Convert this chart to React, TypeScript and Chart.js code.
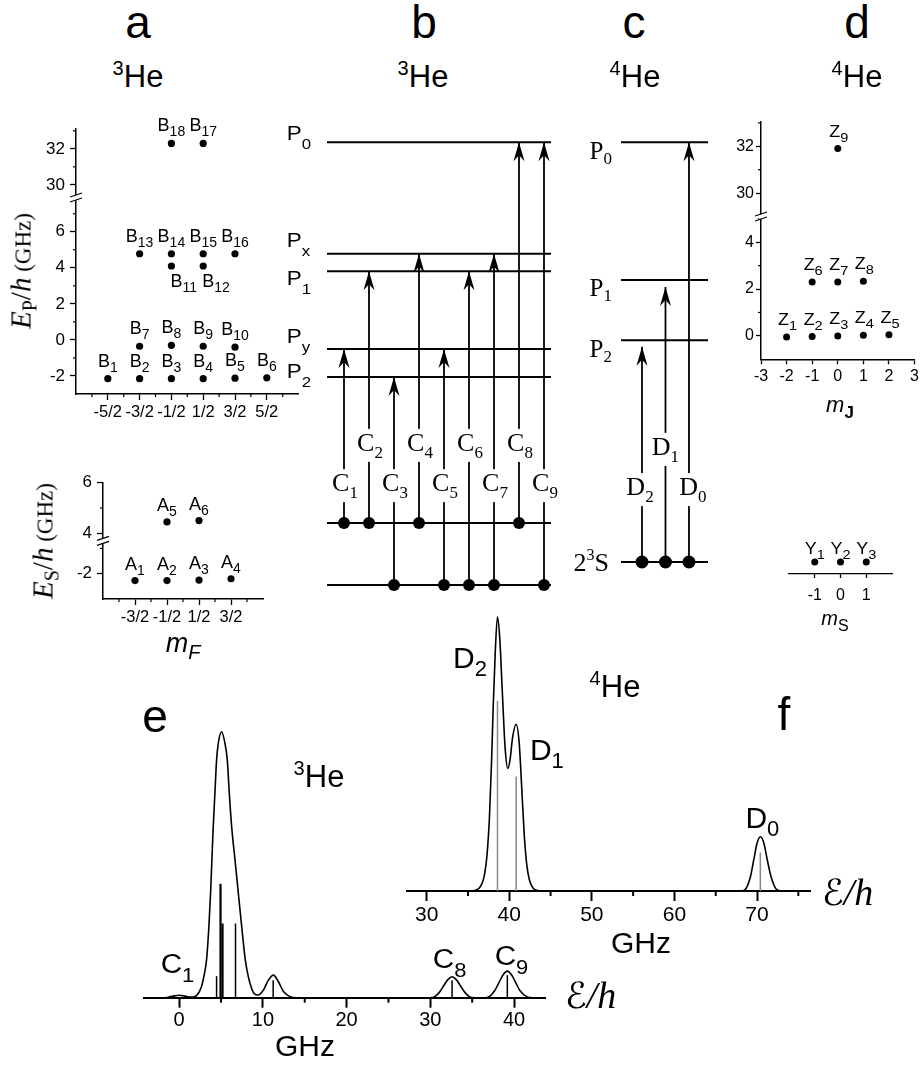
import React, { useEffect, useRef } from "react";
import { Chart, registerables } from "chart.js";

Chart.register(...registerables);

const SANS = "'Liberation Sans', Arial, Helvetica, sans-serif";
const SERIF = "'Liberation Serif', 'Times New Roman', Times, serif";
const SCRIPT = "'DejaVu Serif', 'DejaVu Sans', serif";
Chart.defaults.font.family = SANS;
Chart.defaults.color = "#000";

/* ======================= DATA ======================= */
// (a) 3He 2^3P sublevels B1..B18 : m_F and E_P/h (GHz)
const bMF = [-2.5, -1.5, -0.5, 0.5, 1.5, 2.5, -1.5, -0.5, 0.5, 1.5, -0.5, 0.5, -1.5, -0.5, 0.5, 1.5, 0.5, -0.5];
const bE = [-2.15, -2.15, -2.15, -2.15, -2.12, -2.1, -0.35, -0.3, -0.35, -0.4, 4.1, 4.1, 4.78, 4.78, 4.78, 4.78, 32.3, 32.3];
// (a) 3He 2^3S sublevels A1..A6 : m_F and E_S/h (GHz)
const aMF = [-1.5, -0.5, 0.5, 1.5, -0.5, 0.5];
const aE = [-2.27, -2.27, -2.25, -2.2, 4.45, 4.5];
const mFTicksB = [-2.5, -1.5, -0.5, 0.5, 1.5, 2.5];
const mFLabelsB = ["-5/2", "-3/2", "-1/2", "1/2", "3/2", "5/2"];
const mFTicksA = [-1.5, -0.5, 0.5, 1.5];
const mFLabelsA = ["-3/2", "-1/2", "1/2", "3/2"];
const ePTicksLow = [-2, 0, 2, 4, 6];
const ePTicksHigh = [30, 32];
const eSTicksLow = [-2];
const eSTicksHigh = [4, 6];

// (d) 4He 2^3P sublevels Z1..Z9 and 2^3S sublevels Y1..Y3
const zMJ = [-2, -1, 0, 1, 2, -1, 0, 1, 0];
const zE = [-0.05, -0.03, 0, 0.03, 0.05, 2.3, 2.3, 2.33, 31.9];
const yMS = [-1, 0, 1];
const yE = [0, 0, 0];
const mJTicks = [-3, -2, -1, 0, 1, 2, 3];
const eZTicksLow = [0, 2, 4];
const eZTicksHigh = [30, 32];
const mSTicks = [-1, 0, 1];

// (b) 3He level scheme (schematic energies), transitions C1..C9
const bLevelNames = ["0", "x", "1", "y", "2"];
const bLevelE = [10, 7.48, 7.09, 5.33, 4.7];
const bGroundE = [1.4, 0];
const cSlot = [1, 2, 3, 4, 5, 6, 7, 8, 9];
const cFrom = [0, 0, 1, 0, 1, 1, 1, 0, 1];
const cTo = [3, 2, 4, 1, 3, 2, 1, 0, 0];

// (c) 4He level scheme, transitions D2, D1, D0
const dLevelNames = ["0", "1", "2"];
const dLevelE = [10, 6.89, 5.53];
const dGroundE = 0.52;
const dNames = ["2", "1", "0"];
const dSlot = [1, 2, 3];
const dTip = [5.38, 6.73, 10];

// (e) 3He spectrum (GHz, arb. units)
const eX = [-4.2, -2.0, -1.3, -0.7, 0, 0.7, 1.3, 1.8, 2.28, 2.65, 2.95, 3.27, 3.55, 3.75, 3.91, 4.07, 4.27, 4.47, 4.67, 5.07, 5.47, 5.75, 5.99, 6.27, 6.67, 7.07, 7.47, 7.9, 8.26, 8.6, 8.94, 9.46, 10.06, 10.66, 11.26, 11.86, 12.46, 13.25, 14.0, 29.5, 30.3, 31.1, 31.6, 32.1, 32.6, 33.1, 33.6, 34.1, 34.9, 36.2, 36.9, 37.7, 38.2, 38.7, 39.2, 39.7, 40.2, 40.7, 41.5, 42.3, 43.7];
const eY = [0, 0, 0.2, 0.6, 0.9, 0.6, 0.2, 0.3, 1.6, 4.0, 7.9, 14.2, 26.7, 39.2, 51.8, 64.3, 76.8, 89.3, 95.6, 100, 95.6, 89.3, 76.8, 64.3, 51.8, 39.2, 26.7, 14.2, 7.9, 4.0, 1.6, 1.0, 2.9, 6.6, 8.5, 6.0, 2.3, 0.4, 0, 0, 0.1, 2.1, 4.5, 6.8, 7.9, 6.8, 4.5, 2.1, 0.1, 0, 0.2, 2.7, 5.7, 8.6, 10.0, 8.6, 5.7, 2.7, 0.4, 0, 0];
const eStickX = [4.47, 4.94, 5.18, 6.73, 11.23, 32.6, 39.2];
const eStickH = [8.1, 42.8, 27.9, 27.9, 6.6, 6.6, 8.5];
const eTicks = [0, 10, 20, 30, 40];
const eMinor = [5, 15, 25, 35];

// (f) 4He spectrum
const fX = [27.65, 34.5, 35.5, 36.0, 36.4, 36.7, 37.0, 37.3, 37.6, 37.85, 38.05, 38.3, 38.57, 38.85, 39.15, 39.5, 39.82, 40.1, 40.4, 40.83, 41.2, 41.5, 41.8, 42.1, 42.44, 42.9, 43.4, 44.5, 67.5, 68.2, 68.6, 69.2, 69.6, 70.0, 70.4, 70.8, 71.2, 71.7, 72.4, 73.2, 76.5];
const fY = [0, 0, 0.1, 0.4, 1.2, 2.8, 6, 13, 27, 47, 67, 87, 100, 92, 73, 52, 44.7, 48, 56, 60.8, 54, 38, 21, 10, 4, 1, 0.2, 0, 0, 0.1, 0.6, 5.2, 11.3, 17.4, 19.8, 17.8, 12, 5.2, 0.5, 0, 0];
const fStickX = [38.57, 40.83, 70.4];
const fStickH = [69.3, 41.7, 14.0];
const fTicks = [30, 40, 50, 60, 70];
const fMinor = [35, 45, 55, 65, 75];

/* ======================= HELPERS ======================= */
const fnt = (size: number, fam = SANS, style = "") => `${style ? style + " " : ""}${size}px ${fam}`;
type Seg = [string, string, number?];

function rich(ctx: CanvasRenderingContext2D, segs: Seg[], x: number, y: number, align: "left" | "center" | "right" = "center", sx = 1, bg?: [number, number]) {
  const widths = segs.map(([t, f]) => { ctx.font = f; return ctx.measureText(t).width * sx; });
  const total = widths.reduce((a, b) => a + b, 0);
  let cx = align === "left" ? x : align === "center" ? x - total / 2 : x - total;
  if (bg) { ctx.fillStyle = "#fff"; ctx.fillRect(cx - 2, y - bg[0], total + 4, bg[0] + bg[1]); }
  ctx.fillStyle = "#000"; ctx.textAlign = "left"; ctx.textBaseline = "alphabetic";
  segs.forEach(([t, f, dy], i) => {
    ctx.save(); ctx.font = f; ctx.translate(cx, y + (dy || 0)); ctx.scale(sx, 1); ctx.fillText(t, 0, 0); ctx.restore();
    cx += widths[i];
  });
}
function minorX(ctx: CanvasRenderingContext2D, s: any, vals: number[], len: number, w = 1.2) {
  ctx.strokeStyle = "#000"; ctx.lineWidth = w;
  vals.forEach((v) => { const p = s.getPixelForValue(v); ctx.beginPath(); ctx.moveTo(p, s.top); ctx.lineTo(p, s.top + len); ctx.stroke(); });
}
function minorY(ctx: CanvasRenderingContext2D, s: any, vals: number[], len: number, w = 1.2) {
  ctx.strokeStyle = "#000"; ctx.lineWidth = w;
  vals.forEach((v) => { const p = s.getPixelForValue(v); ctx.beginPath(); ctx.moveTo(s.right, p); ctx.lineTo(s.right - len, p); ctx.stroke(); });
}
function breakMark(ctx: CanvasRenderingContext2D, x: number, y: number) {
  ctx.fillStyle = "#fff"; ctx.fillRect(x - 2, y - 2.5, 4, 5);
  ctx.strokeStyle = "#000"; ctx.lineWidth = 1.2;
  [-2.5, 2.5].forEach((d) => { ctx.beginPath(); ctx.moveTo(x - 6, y + d + 2); ctx.lineTo(x + 6, y + d - 2); ctx.stroke(); });
}
function arrowHead(ctx: CanvasRenderingContext2D, px: number, py: number) {
  ctx.fillStyle = "#000";
  ctx.beginPath(); ctx.moveTo(px, py); ctx.lineTo(px - 5.5, py + 19); ctx.lineTo(px, py + 13); ctx.lineTo(px + 5.5, py + 19); ctx.closePath(); ctx.fill();
}

function mkAxis(o: any) {
  return {
    type: "linear", position: o.position, min: o.min, max: o.max,
    stack: o.stack, stackWeight: o.stackWeight, weight: o.weight ?? 0,
    grid: { display: true, drawOnChartArea: false, drawTicks: true, tickLength: o.tickLen ?? 6, tickWidth: o.tickWidth ?? 1.3, tickColor: "#000" },
    border: { display: true, color: "#000", width: o.borderWidth ?? 1.5 },
    ticks: {
      autoSkip: false, maxRotation: 0, minRotation: 0, padding: o.pad ?? 3, color: "#000",
      font: { family: SANS, size: o.fontSize ?? 17 },
      callback: (v: number, i: number) => (o.labels ? o.labels[i] : String(v)),
    },
    afterBuildTicks: (s: any) => { s.ticks = o.major.map((v: number) => ({ value: v })); },
    afterFit: (s: any) => { if (o.width != null) s.width = o.width; if (o.height != null) s.height = o.height; },
  };
}
const baseOpts = (padding: any, scales: any) => ({
  responsive: false, animation: false, events: [],
  layout: { padding },
  plugins: { legend: { display: false }, tooltip: { enabled: false } },
  scales,
});
const dots = (xs: number[], ys: number[], r: number, axisId = "y") => ({
  data: xs.map((x, i) => ({ x, y: ys[i] })), showLine: false, pointRadius: r, pointBackgroundColor: "#000", pointBorderWidth: 0, yAxisID: axisId, clip: false,
});
const segDs = (pts: any[], w: number, color = "#000", extra: any = {}) => ({
  data: pts, showLine: true, borderColor: color, borderWidth: w, pointRadius: 0, clip: false, ...extra,
});

/* ======================= CHART CONFIGS ======================= */
function cfgA1() {
  const lo = bE.map((v, i) => i).filter((i) => bE[i] < 20);
  const hi = bE.map((v, i) => i).filter((i) => bE[i] >= 20);
  return {
    type: "scatter",
    data: { datasets: [dots(lo.map((i) => bMF[i]), lo.map((i) => bE[i]), 3.6, "y"), dots(hi.map((i) => bMF[i]), hi.map((i) => bE[i]), 3.6, "y2")] },
    options: baseOpts({ left: 0, top: 19, right: 21.4, bottom: 0 }, {
      x: mkAxis({ position: "bottom", min: -3.5, max: 3.5, major: mFTicksB, labels: mFLabelsB, height: 46, fontSize: 16.5 }),
      y: mkAxis({ position: "left", min: -3, max: 7.9, stack: "a", stackWeight: 10.9, major: ePTicksLow, width: 76, pad: 5 }),
      y2: mkAxis({ position: "left", min: 29.3, max: 33.1, stack: "a", stackWeight: 3.8, weight: 1, major: ePTicksHigh, width: 76, pad: 5 }),
    }),
    plugins: [{
      id: "a1", afterDraw(chart: any) {
        const ctx = chart.ctx; const { x, y, y2 } = chart.scales; ctx.save();
        minorX(ctx, x, [-3, -2, -1, 0, 1, 2, 3], 3);
        minorY(ctx, y, [-1, 1, 3, 5, 7], 3);
        minorY(ctx, y2, [31, 33], 3);
        breakMark(ctx, chart.chartArea.left, y2.bottom);
        bMF.forEach((m, i) => {
          const px = x.getPixelForValue(m); const s = bE[i] >= 20 ? y2 : y; const py = s.getPixelForValue(bE[i]);
          const below = i === 10 || i === 11;
          rich(ctx, [["B", fnt(18)], [String(i + 1), fnt(14), 5]], below ? px - 1 : px, below ? py + 21 : py - 12, below ? "left" : "center");
        });
        ctx.restore();
      },
    }],
  };
}

function cfgA2() {
  const lo = aE.map((v, i) => i).filter((i) => aE[i] < 1);
  const hi = aE.map((v, i) => i).filter((i) => aE[i] >= 1);
  return {
    type: "scatter",
    data: { datasets: [dots(lo.map((i) => aMF[i]), lo.map((i) => aE[i]), 3.6, "y"), dots(hi.map((i) => aMF[i]), hi.map((i) => aE[i]), 3.6, "y2")] },
    options: baseOpts({ left: 0, top: 22.7, right: 27, bottom: 0 }, {
      x: mkAxis({ position: "bottom", min: -2.5, max: 2.5, major: mFTicksA, labels: mFLabelsA, height: 61, fontSize: 16.5 }),
      y: mkAxis({ position: "left", min: -3, max: -0.7, stack: "a", stackWeight: 2.3, major: eSTicksLow, width: 103, pad: 5 }),
      y2: mkAxis({ position: "left", min: 3.7, max: 6, stack: "a", stackWeight: 2.3, weight: 1, major: eSTicksHigh, width: 103, pad: 5 }),
    }),
    plugins: [{
      id: "a2", afterDraw(chart: any) {
        const ctx = chart.ctx; const { x, y, y2 } = chart.scales; ctx.save();
        minorX(ctx, x, [-2, -1, 0, 1, 2], 3);
        minorY(ctx, y, [-1], 3);
        minorY(ctx, y2, [5], 3);
        breakMark(ctx, chart.chartArea.left, y2.bottom);
        aMF.forEach((m, i) => {
          const px = x.getPixelForValue(m); const s = aE[i] >= 1 ? y2 : y; const py = s.getPixelForValue(aE[i]);
          rich(ctx, [["A", fnt(18)], [String(i + 1), fnt(14), 5]], px, py - 11, "center");
        });
        ctx.restore();
      },
    }],
  };
}

function cfgZ() {
  const lo = zE.map((v, i) => i).filter((i) => zE[i] < 20);
  const hi = zE.map((v, i) => i).filter((i) => zE[i] >= 20);
  return {
    type: "scatter",
    data: { datasets: [dots(lo.map((i) => zMJ[i]), lo.map((i) => zE[i]), 3.5, "y"), dots(hi.map((i) => zMJ[i]), hi.map((i) => zE[i]), 3.5, "y2")] },
    options: baseOpts({ left: 0, top: 21.7, right: 6, bottom: 0 }, {
      x: mkAxis({ position: "bottom", min: -3, max: 3, major: mJTicks, tickLen: 5, fontSize: 16, height: 70.7 }),
      y: mkAxis({ position: "left", min: -1, max: 5.1, stack: "z", stackWeight: 6.1, major: eZTicksLow, width: 41, tickLen: 5, pad: 2, fontSize: 16 }),
      y2: mkAxis({ position: "left", min: 29, max: 33.05, stack: "z", stackWeight: 4.05, weight: 1, major: eZTicksHigh, width: 41, tickLen: 5, pad: 2, fontSize: 16 }),
    }),
    plugins: [{
      id: "z", afterDraw(chart: any) {
        const ctx = chart.ctx; const { x, y, y2 } = chart.scales; ctx.save();
        minorY(ctx, y, [1, 3, 5], 3);
        minorY(ctx, y2, [31, 33], 3);
        breakMark(ctx, chart.chartArea.left, y2.bottom);
        zMJ.forEach((m, i) => {
          const px = x.getPixelForValue(m); const s = zE[i] >= 20 ? y2 : y; const py = s.getPixelForValue(zE[i]);
          rich(ctx, [["Z", fnt(16)], [String(i + 1), fnt(13), 5]], px + 1, py - 12, "center", 1.12);
        });
        ctx.restore();
      },
    }],
  };
}

function cfgY() {
  return {
    type: "scatter",
    data: { datasets: [dots(yMS, yE, 3.5)] },
    options: baseOpts({ left: 19, top: 20, right: 18, bottom: 0 }, {
      x: mkAxis({ position: "bottom", min: -2, max: 2, major: mSTicks, tickLen: 4, fontSize: 16, pad: 8, height: 76, borderWidth: 1.2 }),
      y: { type: "linear", display: false, min: -1, max: 1 },
    }),
    plugins: [{
      id: "ys", afterDraw(chart: any) {
        const ctx = chart.ctx; const { x, y } = chart.scales; ctx.save();
        yMS.forEach((m, i) => {
          rich(ctx, [["Y", fnt(16)], [String(i + 1), fnt(13), 5]], x.getPixelForValue(m), y.getPixelForValue(yE[i]) - 8, "center", 1.12);
        });
        ctx.restore();
      },
    }],
  };
}

function cfgB() {
  const X0 = 0.32, X1 = 9.28;
  const lvl = (e: number) => segDs([{ x: X0, y: e }, { x: X1, y: e }], 2);
  const datasets: any[] = [...bLevelE.map(lvl), ...bGroundE.map(lvl)];
  cSlot.forEach((s, i) => datasets.push(segDs([{ x: s, y: bGroundE[cFrom[i]] }, { x: s, y: bLevelE[cTo[i]] }], 1.8, "#000", { pointRadius: [6, 0], pointBackgroundColor: "#000", pointBorderWidth: 0 })));
  return {
    type: "scatter",
    data: { datasets },
    options: baseOpts({ left: 47, right: 14, top: 32.3, bottom: 15 }, {
      x: { type: "linear", display: false, min: X0, max: X1 },
      y: { type: "linear", display: false, min: 0, max: 10 },
    }),
    plugins: [{
      id: "b", afterDatasetsDraw(chart: any) {
        const ctx = chart.ctx; const { x, y } = chart.scales; const ca = chart.chartArea; ctx.save();
        cSlot.forEach((s, i) => {
          const px = x.getPixelForValue(s);
          arrowHead(ctx, px, y.getPixelForValue(bLevelE[cTo[i]]));
          const by = y.getPixelForValue(i % 2 === 0 ? 2.12 : 3.03);
          rich(ctx, [["C", fnt(26, SERIF)], [String(i + 1), fnt(17, SERIF), 7]], px + 1, by, "center", 1, [22, 11]);
        });
        const off = [-2, -7, 14, -6, 1];
        bLevelNames.forEach((n, i) => {
          rich(ctx, [["P", fnt(20)], [n, fnt(15), 9]], ca.left - 40.3, y.getPixelForValue(bLevelE[i]) + off[i], "left", 1.12);
        });
        ctx.restore();
      },
    }],
  };
}

function cfgC() {
  const X0 = 0.106, X1 = 3.81;
  const lvl = (e: number) => segDs([{ x: X0, y: e }, { x: X1, y: e }], 2);
  const datasets: any[] = [...dLevelE.map(lvl), lvl(dGroundE)];
  dSlot.forEach((s, i) => datasets.push(segDs([{ x: s, y: dGroundE }, { x: s, y: dTip[i] }], 1.8, "#000", { pointRadius: [6.5, 0], pointBackgroundColor: "#000", pointBorderWidth: 0 })));
  return {
    type: "scatter",
    data: { datasets },
    options: baseOpts({ left: 61, right: 17, top: 32.3, bottom: 15 }, {
      x: { type: "linear", display: false, min: X0, max: X1 },
      y: { type: "linear", display: false, min: 0, max: 10 },
    }),
    plugins: [{
      id: "c", afterDatasetsDraw(chart: any) {
        const ctx = chart.ctx; const { x, y } = chart.scales; const ca = chart.chartArea; ctx.save();
        const dxs = [-2, 0, 4];
        dSlot.forEach((s, i) => {
          const px = x.getPixelForValue(s);
          arrowHead(ctx, px, y.getPixelForValue(dTip[i]));
          const by = y.getPixelForValue(i === 1 ? 2.94 : 2.03);
          rich(ctx, [["D", fnt(26, SERIF)], [dNames[i], fnt(17, SERIF), 7]], px + dxs[i], by, "center", 1, [22, 11]);
        });
        dLevelNames.forEach((n, i) => {
          rich(ctx, [["P", fnt(25, SERIF)], [n, fnt(17, SERIF), 5]], ca.left - 9, y.getPixelForValue(dLevelE[i]) + 16.5, "right");
        });
        rich(ctx, [["2", fnt(26, SERIF)], ["3", fnt(16, SERIF), -11], ["S", fnt(26, SERIF)]], ca.left - 12, y.getPixelForValue(dGroundE) + 9, "right");
        ctx.restore();
      },
    }],
  };
}

function cfgE() {
  const datasets: any[] = [
    segDs(eX.map((x, i) => ({ x, y: eY[i] })), 1.6, "#000", { cubicInterpolationMode: "monotone" }),
    ...eStickX.map((x, i) => segDs([{ x, y: 0 }, { x, y: eStickH[i] }], i === 1 || i === 2 ? 2.2 : 1.5)),
  ];
  return {
    type: "scatter",
    data: { datasets },
    options: baseOpts({ left: 14, right: 95, top: 18.4, bottom: 0 }, {
      x: mkAxis({ position: "bottom", min: -4.2, max: 43.7, major: eTicks, tickLen: 10, tickWidth: 2, borderWidth: 2, fontSize: 20, pad: 1, height: 70.3 }),
      y: { type: "linear", display: false, min: 0, max: 105 },
    }),
    plugins: [{
      id: "e", afterDraw(chart: any) {
        const ctx = chart.ctx; const { x, y } = chart.scales; ctx.save();
        minorX(ctx, x, eMinor, 5, 2);
        const lab: [string, number, number][] = [["1", -0.2, 9.3], ["8", 32.3, 11.2], ["9", 39.7, 12.3]];
        lab.forEach(([n, gx, gy]) => rich(ctx, [["C", fnt(27)], [n, fnt(20), 9]], x.getPixelForValue(gx), y.getPixelForValue(gy), "center", 1.1));
        ctx.restore();
      },
    }],
  };
}

function cfgF() {
  const datasets: any[] = [
    segDs(fX.map((x, i) => ({ x, y: fY[i] })), 1.6, "#000", { cubicInterpolationMode: "monotone" }),
    ...fStickX.map((x, i) => segDs([{ x, y: 0 }, { x, y: fStickH[i] }], 1.5, "#888")),
  ];
  return {
    type: "scatter",
    data: { datasets },
    options: baseOpts({ left: 17.3, right: 69.3, top: 13, bottom: 0 }, {
      x: mkAxis({ position: "bottom", min: 27.65, max: 76.5, major: fTicks, tickLen: 10, tickWidth: 2, borderWidth: 2, fontSize: 21, pad: 2, height: 69 }),
      y: { type: "linear", display: false, min: 0, max: 105 },
    }),
    plugins: [{
      id: "f", afterDraw(chart: any) {
        const ctx = chart.ctx; const { x, y } = chart.scales; ctx.save();
        minorX(ctx, x, fMinor, 5, 2);
        const lab: [string, number, number][] = [["2", 35.25, 81.3], ["1", 44.55, 47.8], ["0", 70.65, 23]];
        lab.forEach(([n, gx, gy]) => rich(ctx, [["D", fnt(30)], [n, fnt(22), 8]], x.getPixelForValue(gx), y.getPixelForValue(gy), "center"));
        ctx.restore();
      },
    }],
  };
}

/* ======================= COMPONENTS ======================= */
function ChartCanvas({ x, y, w, h, make }: { x: number; y: number; w: number; h: number; make: () => any }) {
  const ref = useRef<HTMLCanvasElement>(null);
  useEffect(() => {
    const c = new Chart(ref.current as HTMLCanvasElement, make());
    return () => c.destroy();
  }, []);
  return <canvas ref={ref} width={w} height={h} style={{ position: "absolute", left: x, top: y, width: w, height: h }} />;
}

function T({ x, y, size, fam = SANS, align = "center", children }: any) {
  const tx = align === "center" ? "-50%" : align === "right" ? "-100%" : "0";
  return (
    <div style={{ position: "absolute", left: x, top: y - 0.845 * size, fontFamily: fam, fontSize: size, lineHeight: `${size}px`, whiteSpace: "nowrap", transform: `translateX(${tx})`, color: "#000" }}>
      {children}
    </div>
  );
}
function Sp({ s, dy = 0, it = false, b = false, fam, children }: any) {
  return <span style={{ fontSize: s, position: "relative", top: dy, fontStyle: it ? "italic" : "normal", fontWeight: b ? "bold" : "normal", fontFamily: fam }}>{children}</span>;
}
function Rot({ cx, cy, children }: any) {
  return (
    <div style={{ position: "absolute", left: cx, top: cy, transform: "translate(-50%,-50%) rotate(-90deg)", whiteSpace: "nowrap", lineHeight: "30px", fontFamily: SERIF, fontSize: 28, color: "#000" }}>
      {children}
    </div>
  );
}

export default function App() {
  return (
    <div style={{ position: "absolute", left: 0, top: 0, width: 922, height: 1068, background: "#fff", overflow: "hidden" }}>
      <ChartCanvas x={0} y={110} w={320} h={330} make={cfgA1} />
      <ChartCanvas x={0} y={460} w={290} h={200} make={cfgA2} />
      <ChartCanvas x={280} y={110} w={285} h={490} make={cfgB} />
      <ChartCanvas x={560} y={110} w={165} h={490} make={cfgC} />
      <ChartCanvas x={720} y={100} w={202} h={330} make={cfgZ} />
      <ChartCanvas x={770} y={530} w={140} h={120} make={cfgY} />
      <ChartCanvas x={130} y={700} w={510} h={368} make={cfgE} />
      <ChartCanvas x={390} y={590} w={490} h={370} make={cfgF} />

      <T x={138} y={38} size={46}>a</T>
      <T x={424} y={38} size={46}>b</T>
      <T x={634} y={38} size={46}>c</T>
      <T x={857} y={38} size={46}>d</T>
      <T x={138} y={87} size={31}><Sp s={20} dy={-12}>3</Sp>He</T>
      <T x={423} y={87} size={31}><Sp s={20} dy={-12}>3</Sp>He</T>
      <T x={635} y={87} size={31}><Sp s={20} dy={-12}>4</Sp>He</T>
      <T x={857} y={87} size={31}><Sp s={20} dy={-12}>4</Sp>He</T>

      <Rot cx={21.5} cy={271}>
        <Sp s={29} it>E</Sp><Sp s={20} dy={6}>P</Sp><Sp s={29}>/</Sp><Sp s={29} it>h</Sp><Sp s={23}> (GHz)</Sp>
      </Rot>
      <Rot cx={44} cy={541}>
        <Sp s={29} it>E</Sp><Sp s={20} dy={6}>S</Sp><Sp s={29}>/</Sp><Sp s={29} it>h</Sp><Sp s={23}> (GHz)</Sp>
      </Rot>
      <T x={183} y={653} size={27}><Sp s={27} it>m</Sp><Sp s={20} it dy={7}>F</Sp></T>
      <T x={840} y={413} size={22}><Sp s={22} it>m</Sp><Sp s={17} b dy={6}>J</Sp></T>
      <T x={835} y={625} size={20}><Sp s={20} it>m</Sp><Sp s={16} dy={6}>S</Sp></T>

      <T x={155} y={732} size={46}>e</T>
      <T x={319} y={787} size={31}><Sp s={20} dy={-12}>3</Sp>He</T>
      <T x={615} y={697} size={31}><Sp s={20} dy={-12}>4</Sp>He</T>
      <T x={784} y={730} size={46}>f</T>
      <T x={305} y={1056} size={30}>GHz</T>
      <T x={641} y={953} size={30}>GHz</T>
      <T x={565} y={1008} size={38} fam={SERIF} align="left"><Sp s={36} it fam={SCRIPT}>ℰ</Sp><Sp s={38} it>/h</Sp></T>
      <T x={822} y={905} size={38} fam={SERIF} align="left"><Sp s={36} it fam={SCRIPT}>ℰ</Sp><Sp s={38} it>/h</Sp></T>
    </div>
  );
}
